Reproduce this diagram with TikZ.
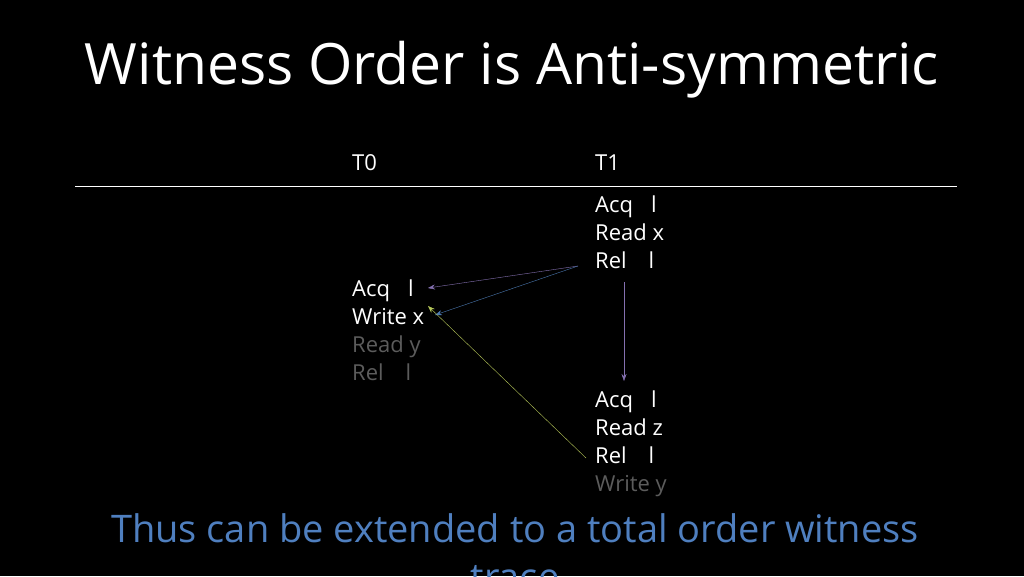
\documentclass[tikz,border=0pt]{standalone}
\usepackage{fontspec}
\setmainfont{Open Sans}
\usetikzlibrary{arrows.meta}
\definecolor{dimgray}{HTML}{5C5C5C}
\definecolor{notecol}{HTML}{4F7FBF}
\definecolor{hbarrow}{HTML}{8470B0}
\definecolor{rfarrow}{HTML}{4A78B0}
\definecolor{wtarrow}{HTML}{B7C85A}
\begin{document}
\begin{tikzpicture}[x=1pt,y=-1pt,
	op/.style = {anchor=base west, inner sep=0pt, text=white, font=\fontsize{22}{22}\selectfont},
	dim op/.style = {op, text=dimgray},
	edge/.style = {-{Stealth[length=7pt,width=5pt]}, thin}]
	\fill[black] (0,0) rectangle (1024,576);
	\useasboundingbox (0,0) rectangle (1024,576);
	\node[text=white,font=\fontsize{57}{57}\selectfont] (title) at (512,70) {Witness Order is Anti-symmetric};
	\node[op] (t0) at (352,170) {T0};
	\node[op] (t1) at (595,170) {T1};
	\draw[white,thin] (75,186) -- (957,186);
	% T1, first block
	\node[op] (acq1) at (595,212) {Acq\hspace{18pt}l};
	\node[op] (readx) at (595,240) {Read x};
	\node[op] (rel1) at (595,268) {Rel\hspace{22pt}l};
	% T0
	\node[op] (acq0) at (352,296) {Acq\hspace{18pt}l};
	\node[op] (writex) at (352,324) {Write x};
	\node[dim op] (ready) at (352,352) {Read y};
	\node[dim op] (rel0) at (352,380) {Rel\hspace{22pt}l};
	% T1, second block
	\node[op] (acq2) at (595,407) {Acq\hspace{18pt}l};
	\node[op] (readz) at (595,435) {Read z};
	\node[op] (rel2) at (595,463) {Rel\hspace{22pt}l};
	\node[dim op] (writey) at (595,491) {Write y};
	\coordinate (relout) at (578,266);
	\coordinate (relin) at (624,282);
	\coordinate (acqin) at (624,381);
	\coordinate (rel2out) at (586,458);
	\coordinate (acqend) at (428,288);
	\coordinate (writeend) at (435,315);
	\coordinate (writetop) at (428,306);
	\draw[edge,hbarrow] (relout) -- (acqend);
	\draw[edge,rfarrow] (relout) -- (writeend);
	\draw[edge,wtarrow] (rel2out) -- (writetop);
	\draw[edge,hbarrow] (relin) -- (acqin);
	\node[text=notecol,font=\fontsize{38}{48}\selectfont,align=center,anchor=north] (note) at (515,510) {Thus can be extended to a total order witness\\trace};
\end{tikzpicture}
\end{document}
